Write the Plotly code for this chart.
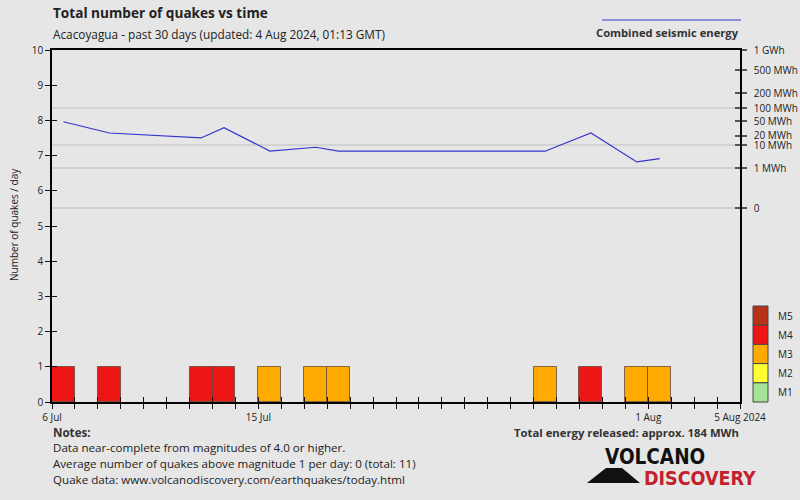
import plotly.graph_objects as go
from datetime import date, timedelta

# ---- data ----
bar_dates = ["2024-07-06", "2024-07-08", "2024-07-12", "2024-07-13", "2024-07-15",
             "2024-07-17", "2024-07-18", "2024-07-27", "2024-07-29", "2024-07-31", "2024-08-01"]
bar_mags = ["M4", "M4", "M4", "M4", "M3", "M3", "M3", "M3", "M4", "M3", "M3"]
bar_counts = [1, 1, 1, 1, 1, 1, 1, 1, 1, 1, 1]
energy_mwh = [48.6, 24.1, 17.1, 33.9, 6.1, 8.4, 6.0, 6.0, 24.1, 2.1, 3.0]

mag_names = ["M5", "M4", "M3", "M2", "M1"]
mag_colors = {"M5": "#b8321a", "M4": "#ee1515", "M3": "#ffaa00", "M2": "#ffff33", "M1": "#a3e396"}

energy_tick_vals = [0, 1, 10, 20, 50, 100, 200, 500, 1000]
energy_tick_text = ["0", "1 MWh", "10 MWh", "20 MWh", "50 MWh", "100 MWh", "200 MWh", "500 MWh", "1 GWh"]
energy_grid_vals = [0, 1, 10, 100]

x_label_dates = {"2024-07-06": "6 Jul", "2024-07-15": "15 Jul", "2024-08-01": "1 Aug", "2024-08-05": "5 Aug 2024"}
start, end = date(2024, 7, 6), date(2024, 8, 5)

# ---- helpers ----
P = 0.2  # energy axis: fifth-root scale
def tr(e):
    return e ** P

day_ticks = [(start + timedelta(days=i)).isoformat() for i in range((end - start).days + 1)]
day_text = [x_label_dates.get(d, "") for d in day_ticks]
mid = lambda d: d + " 12:00"

top_t = tr(1000)
zero_frac = (402 - 208) / 352.0
y2_range = [-top_t * zero_frac / (1 - zero_frac), top_t]

FONT = "Open Sans"
LOGO_FONT = "DejaVu Sans Condensed, Liberation Sans, Arial"
fig = go.Figure()

fig.add_trace(go.Bar(
    x=[mid(d) for d in bar_dates], y=bar_counts,
    width=86400000,
    marker=dict(color=[mag_colors[m] for m in bar_mags],
                line=dict(color="rgba(90,70,50,0.75)", width=1)),
    showlegend=False, hoverinfo="skip"))

fig.add_trace(go.Scatter(
    x=[mid(d) for d in bar_dates], y=[tr(e) for e in energy_mwh],
    mode="lines", line=dict(color="#3535cc", width=1.2), yaxis="y2",
    showlegend=False, hoverinfo="skip"))

# dummy traces to materialise overlay axes
for xa, ya in [("x2", "y"), ("x", "y3"), ("x", "y4"), ("x", "y5")]:
    fig.add_trace(go.Scatter(x=[None], y=[None], xaxis=xa, yaxis=ya, showlegend=False, hoverinfo="skip"))

xr = [start.isoformat(), end.isoformat()]
fig.update_layout(
    width=800, height=500,
    margin=dict(l=52, r=60, t=50, b=98),
    paper_bgcolor="#e6e6e6", plot_bgcolor="#e6e6e6",
    font=dict(family=FONT, size=10, color="#222"),
    bargap=0,
    xaxis=dict(type="date", range=xr, tickmode="array", tickvals=day_ticks, ticktext=day_text,
               ticks="outside", ticklen=5, tickcolor="#111", tickwidth=1, automargin=False,
               showline=True, linecolor="#000", linewidth=1.5, mirror=True,
               showgrid=False, zeroline=False, tickfont=dict(size=10, color="#222")),
    xaxis2=dict(type="date", range=xr, overlaying="x", anchor="y", side="bottom", automargin=False,
                tickmode="array", tickvals=day_ticks, ticks="inside", ticklen=5,
                tickcolor="#111", showticklabels=False, showgrid=False, showline=False, zeroline=False),
    yaxis=dict(range=[0, 10], dtick=1, ticks="outside", ticklen=5, tickcolor="#111", automargin=False,
               showline=True, linecolor="#000", linewidth=1.5, showgrid=False, zeroline=False,
               tickfont=dict(size=10, color="#222")),
    yaxis5=dict(range=[0, 10], dtick=1, overlaying="y", side="left", anchor="x", automargin=False,
                ticks="inside", ticklen=5, tickcolor="#111", showticklabels=False,
                showgrid=False, showline=False, zeroline=False),
    yaxis2=dict(range=y2_range, overlaying="y", side="right", anchor="x", automargin=False,
                tickmode="array", tickvals=[tr(v) for v in energy_tick_vals], ticktext=energy_tick_text,
                ticks="outside", ticklen=5, tickcolor="#555", tickwidth=1.5, ticklabelstandoff=5,
                showline=True, linecolor="#000", linewidth=1.5, showgrid=False, zeroline=False,
                tickfont=dict(size=10, color="#222")),
    yaxis3=dict(range=y2_range, overlaying="y", side="right", anchor="x", automargin=False,
                tickmode="array", tickvals=[tr(v) for v in energy_tick_vals],
                ticks="inside", ticklen=5, tickcolor="#555", tickwidth=1.5,
                showticklabels=False, showgrid=False, showline=False, zeroline=False),
    yaxis4=dict(range=y2_range, overlaying="y", side="right", anchor="x", automargin=False,
                tickmode="array", tickvals=[tr(v) for v in energy_grid_vals],
                showticklabels=False, ticks="", showgrid=True, gridcolor="#d2d2d2", gridwidth=2,
                showline=False, zeroline=False, layer="below traces"),
)

def px_x(px):
    return (px - 52) / 688.0

def px_y(py):
    return (402 - py) / 352.0

ann = []
def A(text, x, y, size=11, xa="left", ya="middle", color="#222", **kw):
    ann.append(dict(text=text, x=px_x(x), y=px_y(y), xref="paper", yref="paper",
                    xanchor=xa, yanchor=ya, showarrow=False,
                    font=dict(family=kw.pop("family", FONT), size=size, color=color), **kw))

A("<b>Total number of quakes vs time</b>", 51, 12, size=13.6)
A("Acacoyagua - past 30 days (updated: 4 Aug 2024, 01:13 GMT)", 51, 34, size=11.8)
A("<b>Combined seismic energy</b>", 741, 33, size=11.2, xa="right", color="#333")
A("Number of quakes / day", 14, 225, size=10, xa="center", textangle=-90)
A("<b>Notes:</b>", 51, 432, size=11.6, color="#333")
A("Data near-complete from magnitudes of 4.0 or higher.", 51, 447, size=11.6)
A("Average number of quakes above magnitude 1 per day: 0 (total: 11)", 51, 463, size=11.6)
A("Quake data: www.volcanodiscovery.com/earthquakes/today.html", 51, 479, size=11.6)
A("<b>Total energy released: approx. 184 MWh</b>", 741, 432, size=11.3, xa="right", color="#333")
A("<b>VOLCANO</b>", 603, 457, size=20.5, xa="left", color="#111", family=LOGO_FONT)
A("<b>DISCOVERY</b>", 642, 478, size=19.5, xa="left", color="#c4202c", family=LOGO_FONT)

shapes = []
# energy legend line
shapes.append(dict(type="line", xref="paper", yref="paper", x0=px_x(602), x1=px_x(741),
                   y0=px_y(20), y1=px_y(20), line=dict(color="#3535cc", width=1)))
# magnitude legend swatches
box_h = (402 - 306) / 5.0
for i, m in enumerate(mag_names):
    y0 = 306 + i * box_h
    shapes.append(dict(type="rect", xref="paper", yref="paper", x0=px_x(753), x1=px_x(768),
                       y0=px_y(y0 + box_h), y1=px_y(y0), fillcolor=mag_colors[m],
                       line=dict(color="#444", width=1)))
    A(m, 776, y0 + box_h / 2, size=10)
# logo triangle
tri = "M {} {} L {} {} L {} {} L {} {} Z".format(px_x(587), px_y(483), px_x(606), px_y(468),
                                                  px_x(622), px_y(468), px_x(640), px_y(483))
shapes.append(dict(type="path", xref="paper", yref="paper", path=tri, fillcolor="#111",
                   line=dict(width=0)))

fig.update_layout(annotations=ann, shapes=shapes)
fig.write_html("out.html", config={"displayModeBar": False},
               post_script="document.body.style.margin='0';document.body.style.overflow='hidden';")
